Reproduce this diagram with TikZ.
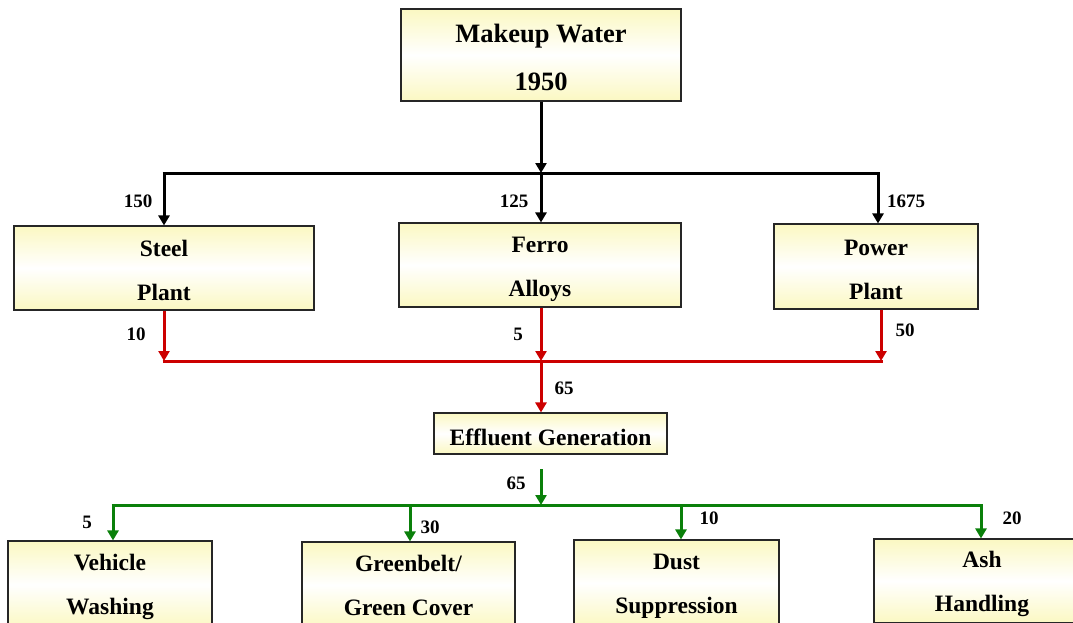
\documentclass[tikz,border=0pt]{standalone}
\usepackage{fontspec}
\setmainfont{Liberation Serif}
\usetikzlibrary{arrows.meta}
\definecolor{byl}{HTML}{FBF8C2}
\definecolor{fred}{HTML}{CC0000}
\definecolor{fgrn}{HTML}{0A800A}
\tikzset{
  box/.style={rectangle, draw=black!85, line width=1.1pt, top color=byl, bottom color=byl, middle color=white,
    inner sep=0pt},
  txt/.style={inner sep=0pt, align=center, font=\bfseries\fontsize{23.5}{44}\selectfont},
  lbl/.style={inner sep=0pt, font=\bfseries\fontsize{19}{20}\selectfont},
  tip/.style={-{Triangle[width=11pt,length=10pt]}},
  blk/.style={line width=3pt, black},
  rd/.style={line width=3pt, fred},
  gr/.style={line width=3pt, fgrn}
}
\begin{document}
\begin{tikzpicture}[x=1pt,y=-1pt]
\useasboundingbox (0,0) rectangle (1073,622);
\clip (0,0) rectangle (1073,622);
% boxes
\node[box, minimum width=280pt, minimum height=92pt] (mw) at (541,55) {};
\node[box, minimum width=300pt, minimum height=84pt] (sp) at (164,268) {};
\node[box, minimum width=282pt, minimum height=84pt] (fa) at (540,265) {};
\node[box, minimum width=204pt, minimum height=85pt] (pp) at (876,266.5) {};
\node[box, minimum width=233pt, minimum height=41pt] (ef) at (550.5,433.5) {};
\node[box, minimum width=204pt, minimum height=87pt] (vw) at (110,584.5) {};
\node[box, minimum width=213pt, minimum height=86pt] (gb) at (408.5,585) {};
\node[box, minimum width=205pt, minimum height=86pt] (ds) at (676.5,583) {};
\node[box, minimum width=216pt, minimum height=84pt] (ah) at (982,581) {};
% box texts
\node[txt, font=\bfseries\fontsize{26.5}{48}\selectfont] (mwt) at ([yshift=-2pt]mw.center) {Makeup Water\\1950};
\node[txt] (spt) at ([yshift=-2.5pt]sp.center) {Steel\\Plant};
\node[txt] (fat) at ([yshift=-4.5pt]fa.center) {Ferro\\Alloys};
\node[txt] (ppt) at ([yshift=-3pt]pp.center) {Power\\Plant};
\node[txt] (eft) at ([yshift=-3.5pt]ef.center) {Effluent Generation};
\node[txt] (vwt) at ([yshift=-2.5pt]vw.center) {Vehicle\\Washing};
\node[txt] (gbt) at ([yshift=0pt]gb.center) {Greenbelt/\\Green Cover};
\node[txt] (dst) at ([yshift=-3pt]ds.center) {Dust\\Suppression};
\node[txt] (aht) at ([yshift=-3pt]ah.center) {Ash\\Handling};
% junction coordinates
\coordinate (bj) at (541,173);
\coordinate (bl) at (164,173);
\coordinate (br) at (878,173);
\coordinate (rj) at (541,361);
\coordinate (rl) at (164,361);
\coordinate (rr) at (881,361);
\coordinate (gs) at (541,469);
\coordinate (gj) at (541,505);
\coordinate (g1) at (113,505);
\coordinate (g2) at (410,505);
\coordinate (g3) at (681,505);
\coordinate (g4) at (981,505);
% black
\draw[blk,tip] (mw.south -| bj) -- (bj);
\draw[blk] ([xshift=-1.5pt]bl) -- ([xshift=1.5pt]br);
\draw[blk,tip] (bl) -- (bl |- sp.north);
\draw[blk,tip] (bj) -- (bj |- fa.north);
\draw[blk,tip] (br) -- (br |- pp.north);
% red
\draw[rd,tip] (sp.south -| rl) -- (rl);
\draw[rd,tip] (fa.south -| rj) -- (rj);
\draw[rd,tip] (pp.south -| rr) -- (rr);
\draw[rd] ([xshift=-1.5pt]rl) -- ([xshift=1.5pt]rr);
\draw[rd,tip] (rj) -- (rj |- ef.north);
% green
\draw[gr,tip] (gs) -- (gj);
\draw[gr] ([xshift=-1.5pt]g1) -- ([xshift=1.5pt]g4);
\draw[gr,tip] (g1) -- (g1 |- vw.north);
\draw[gr,tip] (g2) -- (g2 |- gb.north);
\draw[gr,tip] (g3) -- (g3 |- ds.north);
\draw[gr,tip] (g4) -- (g4 |- ah.north);
% labels
\node[lbl] (l150) at (138,201) {150};
\node[lbl] (l125) at (514,201) {125};
\node[lbl] (l1675) at (906,201) {1675};
\node[lbl] (l10) at (136,334) {10};
\node[lbl] (l5) at (518,334) {5};
\node[lbl] (l50) at (905,330) {50};
\node[lbl] (l65a) at (564,388) {65};
\node[lbl] (l65b) at (516,483) {65};
\node[lbl] (l5b) at (87,522) {5};
\node[lbl] (l30) at (430,527) {30};
\node[lbl] (l10b) at (709,518) {10};
\node[lbl] (l20) at (1012,518) {20};
\end{tikzpicture}
\end{document}
